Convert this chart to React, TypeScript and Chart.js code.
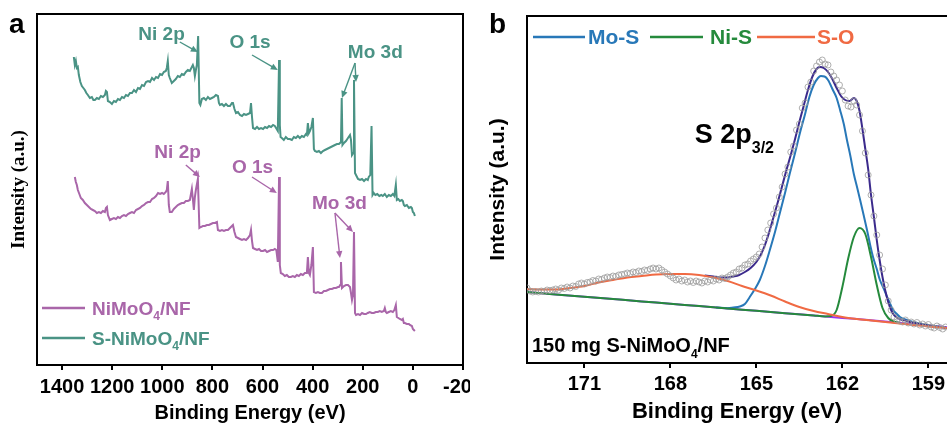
import React, { useEffect, useRef } from 'react';
import { Chart, registerables } from 'chart.js';

Chart.register(...registerables);

// ---------- Panel a: XPS survey ----------
const SURVEY_TICKS = [1400, 1200, 1000, 800, 600, 400, 200, 0, -200];

// [binding energy (eV), intensity (a.u.)]
const NIMOO4_SURVEY: [number, number][] = [
  [1349,188],[1345,183],[1341,180],[1337,175],[1331,171],[1325,167],[1317,165],[1309,162],[1301,160],[1293,158],
  [1285,156],[1277,155],[1269,154],[1261,152],[1253,153],[1245,152],[1237,154],[1229,153],[1225,157],[1221,158],
  [1217,150],[1209,145],[1201,146],[1193,147],[1185,146],[1177,148],[1169,147],[1161,149],[1153,150],[1145,149],
  [1137,151],[1129,152],[1121,153],[1113,152],[1105,155],[1097,156],[1089,157],[1081,159],[1073,160],[1065,162],
  [1057,163],[1049,163],[1041,166],[1033,167],[1025,169],[1017,172],[1009,171],[1001,172],[994,171],[986,173],
  [982,175],[978,184],[974,160],[970,153],[962,153],[954,156],[946,158],[938,160],[930,161],[922,162],
  [914,162],[906,164],[898,164],[890,165],[882,176],[878,166],[874,155],[870,168],[866,175],[858,186],
  [852,137],[846,138],[838,139],[830,139],[822,140],[814,140],[806,141],[798,142],[790,142],[782,143],
  [778,135],[770,134],[762,135],[754,134],[746,135],[738,135],[730,137],[722,139],[718,140],[712,133],
  [706,128],[698,127],[690,126],[682,125],[674,126],[666,125],[658,127],[650,130],[646,135],[642,124],
  [638,117],[630,116],[622,115],[614,116],[606,114],[598,114],[590,115],[582,113],[574,114],[566,115],
  [558,115],[551,116],[545,115],[539,103],[534,188],[531,100],[527,92],[519,91],[511,89],[503,90],
  [495,88],[487,88],[479,89],[471,88],[463,90],[455,89],[447,91],[439,90],[431,92],[423,92],
  [419,108],[415,92],[411,90],[405,100],[399,118],[395,73],[387,72],[379,73],[371,72],[363,72],
  [355,74],[347,74],[339,75],[331,76],[323,76],[315,77],[307,77],[299,78],[295,78],[290,80],
  [287,103],[283,77],[275,79],[267,80],[259,80],[251,78],[247,72],[243,65],[239,70],[235,133],
  [231,52],[227,50],[219,51],[211,50],[203,52],[195,51],[187,51],[180,52],[172,53],[164,52],
  [156,52],[148,53],[140,53],[132,54],[124,53],[116,54],[112,57],[108,53],[104,52],[96,53],
  [88,54],[80,53],[74,55],[68,60],[64,48],[58,47],[52,46],[44,45],[40,46],[36,42],
  [32,42],[24,41],[16,41],[12,40],[4,39],[0,36],[-4,35],[-8,34]
];

const S_NIMOO4_SURVEY: [number, number][] = [
  [1353,308],[1349,300],[1345,304],[1341,297],[1337,298],[1333,290],[1327,283],[1321,279],[1315,277],[1309,275],
  [1303,272],[1297,270],[1289,267],[1281,268],[1275,265],[1269,265],[1261,267],[1253,266],[1245,269],[1237,268],
  [1229,270],[1225,274],[1221,273],[1217,264],[1209,263],[1201,261],[1193,264],[1185,263],[1177,266],[1169,265],
  [1161,268],[1153,267],[1145,270],[1137,269],[1129,272],[1121,272],[1113,275],[1105,273],[1097,277],[1089,276],
  [1081,280],[1073,279],[1065,283],[1057,284],[1049,283],[1041,287],[1033,285],[1025,288],[1017,287],[1009,291],
  [1001,290],[994,293],[986,294],[982,297],[978,304],[974,290],[970,287],[962,282],[954,284],[946,286],
  [938,289],[930,288],[922,291],[914,290],[906,293],[898,295],[890,294],[882,298],[878,300],[874,297],
  [870,289],[866,295],[862,300],[857,329],[852,262],[848,260],[842,266],[834,267],[826,265],[818,268],
  [810,266],[802,267],[794,268],[786,270],[778,269],[774,262],[770,260],[762,261],[754,259],[746,261],
  [738,259],[730,259],[722,262],[718,262],[712,256],[706,252],[698,253],[690,250],[682,249],[674,251],
  [666,250],[658,251],[650,252],[646,262],[642,248],[638,237],[630,236],[622,238],[614,236],[606,237],
  [598,236],[590,238],[582,237],[574,239],[566,238],[558,240],[551,239],[546,237],[539,234],[534,305],
  [531,240],[528,228],[523,227],[515,225],[507,228],[499,226],[491,226],[483,225],[475,228],[467,227],
  [459,229],[451,227],[443,229],[435,228],[427,231],[423,230],[419,242],[415,232],[411,234],[405,238],
  [399,247],[395,216],[391,214],[383,213],[375,214],[367,212],[359,214],[351,215],[343,216],[335,217],
  [327,218],[319,219],[311,220],[303,221],[295,221],[291,222],[287,223],[284,267],[281,220],[275,222],
  [267,224],[259,227],[251,230],[247,225],[243,210],[238,212],[235,285],[231,192],[227,190],[219,186],
  [211,185],[203,186],[195,184],[187,186],[180,185],[176,188],[170,190],[165,239],[161,170],[156,172],
  [150,170],[142,171],[134,169],[126,170],[120,169],[112,171],[104,168],[96,170],[88,169],[80,171],
  [74,169],[68,180],[64,165],[58,166],[52,164],[44,165],[40,164],[36,160],[32,159],[24,160],
  [16,157],[8,158],[4,157],[0,153],[-4,152],[-8,149]
];

// ---------- Panel b: S 2p high resolution ----------
const S2P_TICKS = [171, 168, 165, 162, 159];

const S2P_RAW: [number, number][] = [
  [173.0,75],[172.9,72],[172.8,71],[172.7,71.5],[172.6,71],[172.5,72],[172.4,71.5],[172.3,73],[172.2,72.5],[172.1,73],
  [172.0,74],[171.9,73],[171.8,75],[171.7,74.5],[171.6,76],[171.5,75],[171.4,77],[171.3,76.5],[171.2,79],[171.1,80],
  [171.0,79],[170.9,80.5],[170.8,81],[170.7,82.5],[170.6,82],[170.5,84],[170.4,83.5],[170.3,85],[170.2,86],[170.1,85.5],
  [170.0,87],[169.9,86.5],[169.8,88],[169.7,88.5],[169.6,89],[169.5,90],[169.4,89.5],[169.3,91],[169.2,90.5],[169.1,92],
  [169.0,91.5],[168.9,93],[168.8,92.5],[168.7,94],[168.6,95],[168.5,94],[168.4,95],[168.3,93],[168.2,91],[168.1,89],
  [168.0,87],[167.9,85],[167.8,83],[167.7,84],[167.6,82],[167.5,83],[167.4,81],[167.3,82],[167.2,80.5],[167.1,82],
  [167.0,81],[166.9,80],[166.8,82],[166.7,81],[166.6,83],[166.5,82],[166.4,84],[166.3,83],[166.2,85],[166.1,84.5],
  [166.0,86],[165.9,88],[165.8,90],[165.7,91],[165.6,94],[165.5,95],[165.4,98],[165.3,99],[165.2,102],[165.1,104],
  [165.0,106],[164.9,109],[164.8,116],[164.7,125],[164.6,133],[164.5,140],[164.4,149],[164.3,155],[164.2,166],[164.1,176],
  [164.0,189],[163.9,196],[163.8,211],[163.7,217],[163.6,233],[163.5,239],[163.4,255],[163.3,260],[163.2,276],[163.1,281],
  [163.0,292],[162.9,297],[162.8,301],[162.7,303],[162.6,299],[162.5,298],[162.4,291],[162.3,287],[162.2,283],[162.1,278],
  [162.0,272],[161.9,263],[161.8,257],[161.7,256],[161.6,262],[161.5,258],[161.4,248],[161.3,232],[161.2,210],[161.1,188],
  [161.0,168],[160.9,147],[160.8,128],[160.7,108],[160.6,94],[160.5,78],[160.4,62],[160.3,53],[160.2,46],[160.1,43],
  [160.0,42],[159.9,41],[159.8,43],[159.7,40],[159.6,41],[159.5,39],[159.4,40.5],[159.3,38],[159.2,39],[159.1,37],
  [159.0,38.5],[158.9,36],[158.8,35],[158.7,37],[158.6,35.5],[158.5,34],[158.4,36]
];

const S2P_BACKGROUND: [number, number][] = [
  [173,71],[172,68.6],[171,66.2],[170,63.9],[169,61.6],[168,59.2],[167,56.9],[166,54.5],
  [165,52.2],[164,49.8],[163,47.5],[162,45.1],[161,42.8],[160,40.2],[159,37.6],[158.35,35.8]
];

const S2P_MOS: [number, number][] = [
  [166.4,55.4],[166.0,54.8],[165.8,55.5],[165.58,56.5],[165.4,59],[165.23,66],[165.05,74],[164.88,83],[164.7,97],
  [164.53,113],[164.35,131],[164.18,150],[164.0,170],[163.83,190],[163.65,210],[163.48,230],[163.3,249],[163.15,266],
  [163.0,278],[162.85,285],[162.75,287],[162.62,286.5],[162.5,283],[162.33,273],[162.2,265],[162.08,253],[161.95,239],
  [161.84,223],[161.72,207],[161.6,189],[161.48,175],[161.38,163],[161.25,147],[161.14,133],[161.03,118],[160.93,106],
  [160.8,94],[160.69,83],[160.55,74],[160.44,66],[160.33,59],[160.23,53],[160.1,49],[159.99,46],[159.75,43],
  [159.53,41],[159.3,39.5],[159.04,38],[158.7,36.5],[158.35,35]
];

const S2P_NIS: [number, number][] = [
  [173,71],[172,68.6],[171,66.2],[170,63.9],[169,61.6],[168,59.2],[167,56.9],[166,54.5],[165,52.2],[164,49.8],
  [163,47.5],[162.6,46.6],[162.4,47],[162.2,53],[162.0,76],[161.8,104],[161.6,126],[161.4,135],[161.2,129],
  [161.0,106],[160.8,78],[160.6,55],[160.4,45],[160.2,41.5],[160.0,40.2]
];

const S2P_SO: [number, number][] = [
  [173.0,74],[172.5,73.5],[172.0,73.5],[171.5,75],[171.0,77],[170.5,80.5],[170.0,83],[169.5,85.5],[169.0,87],
  [168.5,88.5],[168.0,89],[167.5,89],[167.0,88],[166.5,85.5],[166.0,82],[165.5,77],[165.0,72.5],[164.5,67.5],
  [164.0,61.5],[163.5,56],[163.0,52],[162.5,49],[162.0,46],[161.5,44],[161.0,42.5],[160.5,41],[160.0,39.5],
  [159.5,38],[159.0,36.5],[158.35,35]
];

const S2P_ENVELOPE: [number, number][] = [
  [166.8,87.5],[166.5,86.5],[166.2,85.5],[166.0,85.5],[165.8,86.5],[165.6,88],[165.4,91],[165.2,95],[165.0,101],
  [164.85,108],[164.7,118],[164.55,131],[164.4,146],[164.25,161],[164.1,177],[163.95,193],[163.8,208],[163.65,224],
  [163.5,241],[163.35,257],[163.2,273],[163.05,286],[162.9,294],[162.78,296],[162.65,295],[162.5,291],[162.35,284],
  [162.2,275],[162.05,267],[161.9,263],[161.75,262],[161.6,265],[161.5,262],[161.4,252],[161.3,234],[161.2,214],
  [161.1,194],[161.0,168],[160.9,146],[160.8,123],[160.7,103],[160.6,86],[160.5,72],[160.4,61],[160.3,53],
  [160.2,48],[160.1,45.5],[160.0,44],[159.75,42],[159.5,40],[159.25,38.5],[159.0,37.5],[158.7,36.2],[158.35,35]
];

// ---------- styling ----------
const SANS = "'Liberation Sans', Arial, Helvetica, sans-serif";
const SERIF = "'Liberation Serif', 'Times New Roman', serif";
const TEAL = '#4a9385';
const PURPLE = '#a966a9';
const BLUE = '#2878b8';
const GREEN = '#258a3c';
const ORANGE = '#f06a43';
const ENVELOPE = '#3b2a8c';
const BGLINE = '#9b35f0';
const RAW = '#9c9c9c';

type Part = { t: string; sub?: boolean };

function drawRich(ctx: CanvasRenderingContext2D, x: number, y: number, parts: Part[], size: number, color: string, subSize?: number, subDrop?: number) {
  const main = `bold ${size}px ${SANS}`;
  const ss = subSize ?? Math.round(size * 0.62);
  const sub = `bold ${ss}px ${SANS}`;
  const drop = subDrop ?? size * 0.28;
  ctx.save();
  ctx.fillStyle = color;
  ctx.textBaseline = 'alphabetic';
  ctx.textAlign = 'left';
  let cx = x;
  for (const p of parts) {
    ctx.font = p.sub ? sub : main;
    ctx.fillText(p.t, cx, p.sub ? y + drop : y);
    cx += ctx.measureText(p.t).width;
  }
  ctx.restore();
}

function arrow(ctx: CanvasRenderingContext2D, x0: number, y0: number, x1: number, y1: number, color: string) {
  const ang = Math.atan2(y1 - y0, x1 - x0);
  const L = 7, W = 3.2;
  ctx.save();
  ctx.strokeStyle = color;
  ctx.fillStyle = color;
  ctx.lineWidth = 1.4;
  ctx.beginPath();
  ctx.moveTo(x0, y0);
  ctx.lineTo(x1 - L * 0.8 * Math.cos(ang), y1 - L * 0.8 * Math.sin(ang));
  ctx.stroke();
  ctx.beginPath();
  ctx.moveTo(x1, y1);
  ctx.lineTo(x1 - L * Math.cos(ang) + W * Math.sin(ang), y1 - L * Math.sin(ang) - W * Math.cos(ang));
  ctx.lineTo(x1 - L * Math.cos(ang) - W * Math.sin(ang), y1 - L * Math.sin(ang) + W * Math.cos(ang));
  ctx.closePath();
  ctx.fill();
  ctx.restore();
}

const SURVEY_NOTES = [
  { text: 'Ni 2p', x: 1003, y: 330, color: TEAL, arrows: [[930, 323, 858, 313]] },
  { text: 'O 1s', x: 650, y: 322, color: TEAL, arrows: [[642, 310, 539, 295]] },
  { text: 'Mo 3d', x: 150, y: 312, color: TEAL, arrows: [[231, 302, 283, 267], [231, 302, 227, 283]] },
  { text: 'Ni 2p', x: 939, y: 212, color: PURPLE, arrows: [[906, 200, 850, 188]] },
  { text: 'O 1s', x: 640, y: 197, color: PURPLE, arrows: [[642, 188, 543, 172]] },
  { text: 'Mo 3d', x: 293, y: 161, color: PURPLE, arrows: [[311, 152, 291, 107], [311, 152, 239, 133]] },
];

const SURVEY_LEGEND = [
  { color: PURPLE, parts: [{ t: 'NiMoO' }, { t: '4', sub: true }, { t: '/NF' }] as Part[], dy: -57 },
  { color: TEAL, parts: [{ t: 'S-NiMoO' }, { t: '4', sub: true }, { t: '/NF' }] as Part[], dy: -27 },
];

const S2P_LEGEND = [
  { color: BLUE, text: 'Mo-S', x0: 6, x1: 58, tx: 61 },
  { color: GREEN, text: 'Ni-S', x0: 123, x1: 176, tx: 183 },
  { color: ORANGE, text: 'S-O', x0: 230, x1: 288, tx: 290 },
];

const surveyDecor = {
  id: 'surveyDecor',
  afterDraw(chart: any) {
    const { ctx, chartArea: a, scales } = chart;
    const xs = scales.x, ys = scales.y;
    ctx.save();
    ctx.strokeStyle = '#000';
    ctx.lineWidth = 2;
    ctx.lineCap = 'square';
    ctx.beginPath();
    ctx.moveTo(a.left, a.top);
    ctx.lineTo(a.right, a.top);
    ctx.lineTo(a.right, a.bottom);
    ctx.stroke();
    ctx.restore();

    for (const n of SURVEY_NOTES) {
      ctx.save();
      ctx.font = `bold 19px ${SANS}`;
      ctx.fillStyle = n.color;
      ctx.textAlign = 'center';
      ctx.textBaseline = 'middle';
      ctx.fillText(n.text, xs.getPixelForValue(n.x), ys.getPixelForValue(n.y));
      ctx.restore();
      for (const ar of n.arrows) {
        arrow(ctx, xs.getPixelForValue(ar[0]), ys.getPixelForValue(ar[1]), xs.getPixelForValue(ar[2]), ys.getPixelForValue(ar[3]), n.color);
      }
    }

    for (const l of SURVEY_LEGEND) {
      const ly = a.bottom + l.dy;
      ctx.save();
      ctx.strokeStyle = l.color;
      ctx.lineWidth = 2.5;
      ctx.beginPath();
      ctx.moveTo(a.left + 5, ly);
      ctx.lineTo(a.left + 48, ly);
      ctx.stroke();
      ctx.restore();
      drawRich(ctx, a.left + 55, ly + 7, l.parts, 19, l.color);
    }

    ctx.save();
    ctx.font = `bold 28px ${SANS}`;
    ctx.fillStyle = '#000';
    ctx.textBaseline = 'alphabetic';
    ctx.fillText('a', 9, 33);
    ctx.restore();
  },
};

const s2pDecor = {
  id: 's2pDecor',
  afterDraw(chart: any) {
    const { ctx, chartArea: a, scales } = chart;
    const xs = scales.x, ys = scales.y;
    ctx.save();
    ctx.strokeStyle = '#000';
    ctx.lineWidth = 2;
    ctx.lineCap = 'square';
    ctx.beginPath();
    ctx.moveTo(a.left, a.top);
    ctx.lineTo(a.right + 2, a.top);
    ctx.stroke();
    ctx.restore();

    for (const l of S2P_LEGEND) {
      const ly = a.top + 21;
      ctx.save();
      ctx.strokeStyle = l.color;
      ctx.lineWidth = 2.5;
      ctx.beginPath();
      ctx.moveTo(a.left + l.x0, ly);
      ctx.lineTo(a.left + l.x1, ly);
      ctx.stroke();
      ctx.font = `bold 21px ${SANS}`;
      ctx.fillStyle = l.color;
      ctx.textBaseline = 'alphabetic';
      ctx.fillText(l.text, a.left + l.tx, a.top + 28);
      ctx.restore();
    }

    drawRich(ctx, xs.getPixelForValue(167.15), ys.getPixelForValue(220), [{ t: 'S 2p' }, { t: '3/2', sub: true }], 27, '#000', 16, 10);
    drawRich(ctx, a.left + 5, a.bottom - 11, [{ t: '150 mg S-NiMoO' }, { t: '4', sub: true }, { t: '/NF' }], 20, '#000');

    ctx.save();
    ctx.font = `bold 28px ${SANS}`;
    ctx.fillStyle = '#000';
    ctx.textBaseline = 'alphabetic';
    ctx.fillText('b', 9, 33);
    ctx.restore();
  },
};

const pts = (arr: [number, number][]) => arr.map(([x, y]) => ({ x, y }));
const plainTick = (v: any) => String(v);

function SurveyChart() {
  const ref = useRef<HTMLCanvasElement | null>(null);
  useEffect(() => {
    if (!ref.current) return;
    const chart = new Chart(ref.current, {
      type: 'line',
      data: {
        datasets: [
          { label: 'S-NiMoO4/NF', data: pts(S_NIMOO4_SURVEY), borderColor: TEAL, borderWidth: 2, pointRadius: 0, tension: 0 },
          { label: 'NiMoO4/NF', data: pts(NIMOO4_SURVEY), borderColor: PURPLE, borderWidth: 2, pointRadius: 0, tension: 0 },
        ],
      },
      options: {
        responsive: false,
        animation: false,
        layout: { autoPadding: false, padding: { top: 14, right: 7, left: 0, bottom: 0 } },
        plugins: { legend: { display: false }, tooltip: { enabled: false } },
        scales: {
          x: {
            type: 'linear',
            reverse: true,
            min: -200,
            max: 1500,
            afterBuildTicks: (s: any) => { s.ticks = SURVEY_TICKS.map((v) => ({ value: v })); },
            afterFit: (s: any) => { s.height = 60; s.paddingLeft = 0; s.paddingRight = 0; },
            grid: { display: true, drawOnChartArea: false, drawTicks: true, tickLength: 5, tickWidth: 2, tickColor: '#000', color: '#000', lineWidth: 2 },
            border: { display: true, color: '#000', width: 2 },
            ticks: { callback: plainTick, font: { family: SANS, size: 20, weight: 'bold' }, color: '#000', padding: 5, maxRotation: 0, autoSkip: false },
            title: { display: true, text: 'Binding Energy (eV)', font: { family: SANS, size: 20, weight: 'bold' }, color: '#000', padding: { top: 0, bottom: 0 } },
          },
          y: {
            type: 'linear',
            min: 0,
            max: 351,
            afterFit: (s: any) => { s.width = 37; s.paddingTop = 0; s.paddingBottom = 0; },
            ticks: { display: false },
            grid: { display: false },
            border: { display: true, color: '#000', width: 2 },
            title: { display: true, text: 'Intensity (a.u.)', font: { family: SERIF, size: 19, weight: 'bold' }, color: '#000', padding: { top: 8, bottom: 0 } },
          },
        },
      } as any,
      plugins: [surveyDecor],
    });
    return () => chart.destroy();
  }, []);
  return <canvas ref={ref} width={470} height={425} style={{ position: 'absolute', left: 0, top: 0, width: 470, height: 425 }} />;
}

function S2pChart() {
  const ref = useRef<HTMLCanvasElement | null>(null);
  useEffect(() => {
    if (!ref.current) return;
    const line = (data: [number, number][], color: string, order: number) => ({
      data: pts(data), borderColor: color, borderWidth: 2, pointRadius: 0, cubicInterpolationMode: 'monotone', order,
    });
    const chart = new Chart(ref.current, {
      type: 'line',
      data: {
        datasets: [
          {
            label: 'raw', data: pts(S2P_RAW), showLine: false, pointRadius: 3, pointStyle: 'circle',
            pointBorderColor: RAW, pointBackgroundColor: 'rgba(255,255,255,0)', pointBorderWidth: 0.8, order: 0,
          },
          { label: 'S-O', ...line(S2P_SO, ORANGE, 1) },
          { label: 'Envelope', ...line(S2P_ENVELOPE, ENVELOPE, 2) },
          { label: 'Ni-S', ...line(S2P_NIS, GREEN, 3) },
          { label: 'Mo-S', ...line(S2P_MOS, BLUE, 4) },
          { label: 'Background', ...line(S2P_BACKGROUND, BGLINE, 5) },
        ],
      },
      options: {
        responsive: false,
        animation: false,
        layout: { autoPadding: false, padding: { top: 16, right: 0, left: 0, bottom: 0 } },
        plugins: { legend: { display: false }, tooltip: { enabled: false } },
        scales: {
          x: {
            type: 'linear',
            reverse: true,
            min: 158.35,
            max: 173,
            afterBuildTicks: (s: any) => { s.ticks = S2P_TICKS.map((v) => ({ value: v })); },
            afterFit: (s: any) => { s.height = 62; s.paddingLeft = 0; s.paddingRight = 0; },
            grid: { display: true, drawOnChartArea: false, drawTicks: true, tickLength: 5, tickWidth: 2, tickColor: '#000', color: '#000', lineWidth: 2 },
            border: { display: true, color: '#000', width: 2 },
            ticks: { callback: plainTick, font: { family: SANS, size: 20, weight: 'bold' }, color: '#000', padding: 4, maxRotation: 0, autoSkip: false },
            title: { display: true, text: 'Binding Energy (eV)', font: { family: SANS, size: 22, weight: 'bold' }, color: '#000', padding: { top: 0, bottom: 0 } },
          },
          y: {
            type: 'linear',
            min: 0,
            max: 347,
            afterFit: (s: any) => { s.width = 47; s.paddingTop = 0; s.paddingBottom = 0; },
            ticks: { display: false },
            grid: { display: false },
            border: { display: true, color: '#000', width: 2 },
            title: { display: true, text: 'Intensity (a.u.)', font: { family: SANS, size: 21, weight: 'bold' }, color: '#000', padding: { top: 6, bottom: 0 } },
          },
        },
      } as any,
      plugins: [s2pDecor],
    });
    return () => chart.destroy();
  }, []);
  return <canvas ref={ref} width={467} height={425} style={{ position: 'absolute', left: 480, top: 0, width: 467, height: 425 }} />;
}

export default function App() {
  return (
    <div style={{ position: 'fixed', left: 0, top: 0, width: 947, height: 425, background: '#fff', overflow: 'hidden' }}>
      <SurveyChart />
      <S2pChart />
    </div>
  );
}
